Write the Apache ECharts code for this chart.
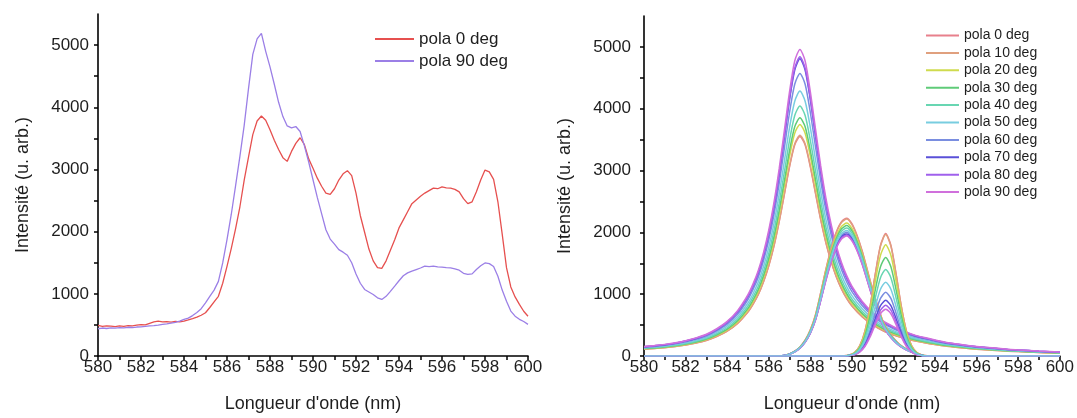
<!DOCTYPE html>
<html>
<head>
<meta charset="utf-8">
<script src="https://cdn.jsdelivr.net/npm/echarts/dist/echarts.min.js"></script>
<style>
  html, body { margin: 0; padding: 0; background: #fff; width: 1077px; height: 418px; overflow: hidden; }
  #left  { position: absolute; left: 0;     top: 0; width: 560px; height: 418px; }
  #right { position: absolute; left: 540px; top: 0; width: 537px; height: 418px; }
</style>
</head>
<body>
<div id="left"></div>
<div id="right"></div>
<script>
// ---------- measured spectra (left panel) ----------
const waveL = [580,580.2,580.4,580.6,580.8,581,581.2,581.4,581.6,581.8,582,582.2,582.4,582.6,582.8,583,583.2,583.4,583.6,583.8,
  584,584.2,584.4,584.6,584.8,585,585.2,585.4,585.6,585.8,586,586.2,586.4,586.6,586.8,587,587.2,587.4,587.6,587.8,
  588,588.2,588.4,588.6,588.8,589,589.2,589.4,589.6,589.8,590,590.2,590.4,590.6,590.8,591,591.2,591.4,591.6,591.8,
  592,592.2,592.4,592.6,592.8,593,593.2,593.4,593.6,593.8,594,594.2,594.4,594.6,594.8,595,595.2,595.4,595.6,595.8,
  596,596.2,596.4,596.6,596.8,597,597.2,597.4,597.6,597.8,598,598.2,598.4,598.6,598.8,599,599.2,599.4,599.6,599.8,600];

const pola0 = [492,478,486,481,474,483,477,488,484,495,505,500,526,548,560,548,553,545,556,549,
  561,580,602,625,655,695,780,870,960,1170,1440,1730,2050,2400,2830,3200,3560,3780,3860,3790,
  3640,3470,3320,3190,3130,3290,3420,3510,3400,3170,3020,2860,2730,2620,2600,2690,2830,2930,2980,2900,
  2620,2260,1990,1720,1530,1420,1410,1530,1700,1870,2060,2190,2320,2450,2510,2570,2620,2660,2700,2690,
  2720,2705,2700,2680,2640,2530,2450,2480,2640,2830,2990,2960,2840,2480,1960,1420,1110,950,830,720,640];

const pola90 = [438,450,442,452,447,455,451,462,458,466,470,476,483,490,498,508,515,527,540,560,
  588,610,650,700,760,856,960,1060,1200,1497,1872,2280,2740,3210,3710,4300,4850,5100,5190,4900,
  4650,4370,4080,3850,3700,3670,3690,3610,3380,3120,2834,2550,2290,2030,1880,1800,1711,1670,1620,1500,
  1320,1170,1070,1030,990,936,909,960,1040,1123,1210,1290,1337,1365,1390,1415,1444,1438,1444,1432,
  1428,1420,1417,1400,1380,1330,1312,1321,1390,1450,1497,1485,1440,1283,1060,880,722,640,590,555,508];

// ---------- fitted components (right panel) ----------
const angleNames = ['pola 0 deg','pola 10 deg','pola 20 deg','pola 30 deg','pola 40 deg',
  'pola 50 deg','pola 60 deg','pola 70 deg','pola 80 deg','pola 90 deg'];
const angleColors = ['#e8808c','#e0a07e','#cfdb4e','#5fcb78','#68d6b2',
  '#78cde0','#7a8ee0','#5a50d8','#a060ec','#d070dc'];

// main component (~587.5 nm)
const waveMain = [580,580.5,581,581.5,582,582.5,583,583.5,584,584.5,585,
  585.25,585.5,585.75,586,586.25,586.5,586.75,587,587.25,587.5,587.75,588,588.25,588.5,588.75,589,589.25,589.5,589.75,590,
  590.5,591,591.5,592,592.5,593,593.5,594,594.5,595,595.5,596,596.5,597,597.5,598,598.5,599,599.5,600];
const mainPeak = [
  [110,121,135,153,178,209,252,316,401,525,710, 838,994,1200,1456,1775,2166,2609,3060,3415,3550,3415,3060,2627,2201,1828,1527,1278,1083,930,809,
   632,504,408,341,288,245,213,185,160,142,124,110,99,89,78,71,64,57,51,46],
  [111,122,136,154,179,211,253,318,403,528,714, 843,1000,1207,1464,1785,2178,2624,3077,3434,3570,3434,3077,2642,2213,1839,1535,1285,1089,935,814,
   635,507,411,343,289,246,214,186,161,143,125,111,100,89,79,71,64,57,52,46],
  [116,127,142,161,187,221,266,333,423,554,749, 884,1049,1266,1535,1873,2284,2753,3228,3603,3745,3603,3228,2771,2322,1929,1610,1348,1142,981,854,
   667,532,431,360,303,258,225,195,169,150,131,116,105,94,82,75,67,60,54,49],
  [120,131,146,166,193,227,274,343,436,571,771, 910,1079,1303,1581,1928,2352,2833,3323,3709,3855,3709,3323,2853,2390,1985,1658,1388,1176,1010,879,
   686,547,443,370,312,266,231,200,173,154,135,120,108,96,85,77,69,62,56,50],
  [125,138,154,174,202,239,287,360,457,599,809, 955,1133,1367,1658,2023,2467,2973,3487,3891,4045,3891,3487,2993,2508,2083,1739,1456,1234,1060,922,
   720,574,465,388,328,279,243,210,182,162,142,125,113,101,89,81,73,65,59,53],
  [133,146,163,184,214,253,304,381,484,634,857, 1011,1200,1448,1757,2143,2614,3149,3694,4122,4285,4122,3694,3171,2657,2207,1843,1543,1307,1123,977,
   763,608,493,411,347,296,257,223,193,171,150,133,120,107,94,86,77,69,62,56],
  [142,155,174,197,229,270,324,407,516,676,914, 1079,1280,1545,1874,2285,2788,3359,3939,4396,4570,4396,3939,3382,2833,2354,1965,1645,1394,1197,1042,
   813,649,526,439,370,315,274,238,206,183,160,142,128,114,101,91,82,73,66,59],
  [149,164,183,207,241,284,342,428,544,712,962, 1135,1347,1626,1972,2405,2934,3535,4146,4627,4810,4627,4146,3559,2982,2477,2068,1732,1467,1260,1097,
   856,683,553,462,390,332,289,250,216,192,168,149,135,120,106,96,87,77,70,63],
  [150,165,184,208,242,286,344,431,547,716,968, 1142,1355,1636,1984,2420,2952,3557,4172,4656,4840,4656,4172,3582,3001,2493,2081,1742,1476,1268,1104,
   862,687,557,465,392,334,290,252,218,194,169,150,136,121,106,97,87,77,70,63],
  [154,169,188,213,248,293,352,441,560,734,992, 1171,1389,1676,2034,2480,3026,3646,4276,4772,4960,4772,4276,3670,3075,2554,2133,1786,1513,1300,1131,
   883,704,570,476,402,342,298,258,223,198,174,154,139,124,109,99,89,79,72,64]
];

// second component (~589.7 nm)
const waveSecond = [580,586.5,586.75,587,587.25,587.5,587.75,588,588.25,588.5,588.75,589,589.25,589.5,589.75,590,
  590.25,590.5,590.75,591,591.25,591.5,591.75,592,592.25,592.5,592.75,593,593.25,593.5,600];
const secondPeak = [
  [0,0,9,33,78,147,256,424,669,1026,1405,1739,2007,2174,2230,2141,1951,1695,1383,1070,803,558,401,290,201,138,89,56,27,0,0],
  [0,0,9,33,78,146,255,421,665,1019,1395,1728,1994,2160,2215,2126,1938,1683,1373,1063,797,554,399,288,199,137,89,55,27,0,0],
  [0,0,9,32,75,142,247,409,645,989,1355,1677,1935,2096,2150,2064,1881,1634,1333,1032,774,538,387,280,194,133,86,54,26,0,0],
  [0,0,8,32,74,139,243,401,633,971,1329,1646,1899,2057,2110,2026,1846,1604,1308,1013,760,528,380,274,190,131,84,53,25,0,0],
  [0,0,8,31,72,137,238,393,621,952,1304,1615,1863,2018,2070,1987,1811,1573,1283,994,745,518,373,269,186,128,83,52,25,0,0],
  [0,0,8,30,71,134,233,386,609,934,1279,1583,1827,1979,2030,1949,1776,1543,1259,974,731,508,365,264,183,126,81,51,24,0,0],
  [0,0,8,30,70,132,230,380,600,920,1260,1560,1800,1950,2000,1920,1750,1520,1240,960,720,500,360,260,180,124,80,50,24,0,0],
  [0,0,8,30,69,130,227,375,593,909,1244,1541,1778,1926,1975,1896,1728,1501,1225,948,711,494,356,257,178,122,79,49,24,0,0],
  [0,0,8,29,68,129,225,371,587,899,1232,1525,1760,1906,1955,1877,1711,1486,1212,938,704,489,352,254,176,121,78,49,23,0,0],
  [0,0,8,29,68,128,223,369,582,892,1222,1513,1746,1892,1940,1862,1698,1474,1203,931,698,485,349,252,175,120,78,49,23,0,0]
];

// third component (~591.6 nm)
const waveThird = [580,589.625,589.875,590.125,590.375,590.625,590.875,591.125,591.375,591.625,
  591.875,592.125,592.375,592.625,592.875,593.125,593.375,593.625,600];
const thirdPeak = [
  [0,3,15,55,164,402,808,1329,1792,1980,1792,1329,808,402,164,55,15,3,0],
  [0,3,15,54,163,399,802,1319,1778,1965,1778,1319,802,399,163,54,15,3,0],
  [0,3,14,50,149,365,734,1208,1629,1800,1629,1208,734,365,149,50,14,3,0],
  [0,3,12,44,132,324,651,1070,1443,1595,1443,1070,651,324,132,44,12,3,0],
  [0,2,11,39,116,284,571,939,1267,1400,1267,939,571,284,116,39,11,2,0],
  [0,2,9,33,99,243,488,802,1081,1195,1081,802,488,243,99,33,9,2,0],
  [0,2,8,29,85,209,420,691,932,1030,932,691,420,209,85,29,8,2,0],
  [0,2,7,25,75,183,367,604,815,900,815,604,367,183,75,25,7,2,0],
  [0,1,6,23,68,166,335,550,742,820,742,550,335,166,68,23,6,1,0],
  [0,1,6,21,63,153,308,507,683,755,683,507,308,153,63,21,6,1,0]
];

const FONT = "'Liberation Sans', Arial, Helvetica, sans-serif";
const TXT = '#1e1e1e';

function xAxisCfg() {
  return {
    type: 'value', min: 580, max: 600, interval: 1,
    name: "Longueur d'onde (nm)", nameLocation: 'middle', nameGap: 39,
    nameTextStyle: { fontSize: 18, color: TXT, fontFamily: FONT },
    axisLine: { onZero: false, lineStyle: { color: '#000', width: 1.6 } },
    axisTick: { length: 4, lineStyle: { color: '#000', width: 1.5 } },
    axisLabel: { formatter: v => (v % 2 === 0 ? String(v) : ''), color: TXT, fontSize: 17,
      fontFamily: FONT, margin: 3, hideOverlap: false },
    splitLine: { show: false }
  };
}
function yAxisCfg(gap, labelMargin) {
  return {
    type: 'value', min: 0, max: 5500, interval: 500,
    name: 'Intensité (u. arb.)', nameLocation: 'middle', nameGap: gap, nameRotate: 90,
    nameTextStyle: { fontSize: 18, color: TXT, fontFamily: FONT },
    axisLine: { show: true, lineStyle: { color: '#000', width: 1.6 } },
    axisTick: { show: true, length: 4, lineStyle: { color: '#000', width: 1.5 } },
    axisLabel: { formatter: v => (v % 1000 === 0 ? String(v) : ''), color: TXT, fontSize: 17,
      fontFamily: FONT, margin: labelMargin, showMaxLabel: false },
    splitLine: { show: false }
  };
}

// ---------- left panel ----------
const left = echarts.init(document.getElementById('left'), null, { renderer: 'canvas' });
left.setOption({
  animation: false,
  grid: { left: 98, right: 32, top: 14, bottom: 61 },
  xAxis: xAxisCfg(),
  yAxis: yAxisCfg(66, 9),
  legend: {
    orient: 'vertical', left: 374, top: 30, padding: 0,
    itemWidth: 39, itemHeight: 18, itemGap: 4,
    itemStyle: { opacity: 0 },
    textStyle: { fontSize: 17, color: TXT, fontFamily: FONT, lineHeight: 18 },
    data: ['pola 0 deg', 'pola 90 deg']
  },
  series: [
    { type: 'line', name: 'pola 0 deg', symbol: 'none',
      data: waveL.map((x, i) => [x, pola0[i]]),
      lineStyle: { color: '#e6504f', width: 1.3 }, itemStyle: { color: '#e6504f' } },
    { type: 'line', name: 'pola 90 deg', symbol: 'none',
      data: waveL.map((x, i) => [x, pola90[i]]),
      lineStyle: { color: '#9b7fe6', width: 1.3 }, itemStyle: { color: '#9b7fe6' } }
  ]
});

// ---------- right panel ----------
function component(xs, rows, idx) {
  return {
    type: 'line', name: angleNames[idx], symbol: 'none', smooth: 0.25,
    data: xs.map((x, i) => [x, rows[idx][i]]),
    lineStyle: { color: angleColors[idx], width: 1.5 }, itemStyle: { color: angleColors[idx] }
  };
}
const rightSeries = [];
for (let k = 0; k < 10; k++) rightSeries.push(component(waveMain, mainPeak, k));
const sideOrder = [0, 1, 2, 3, 4, 6, 7, 8, 9, 5];
sideOrder.forEach(k => rightSeries.push(component(waveSecond, secondPeak, k)));
sideOrder.forEach(k => rightSeries.push(component(waveThird, thirdPeak, k)));

const right = echarts.init(document.getElementById('right'), null, { renderer: 'canvas' });
right.setOption({
  animation: false,
  grid: { left: 104, right: 17, top: 16, bottom: 61 },
  xAxis: xAxisCfg(),
  yAxis: yAxisCfg(70, 13),
  legend: {
    orient: 'vertical', left: 385, top: 28, padding: 0,
    itemWidth: 33, itemHeight: 15, itemGap: 2.4,
    itemStyle: { opacity: 0 },
    textStyle: { fontSize: 14, color: TXT, fontFamily: FONT, lineHeight: 15 },
    data: angleNames
  },
  series: rightSeries
});
</script>
</body>
</html>
